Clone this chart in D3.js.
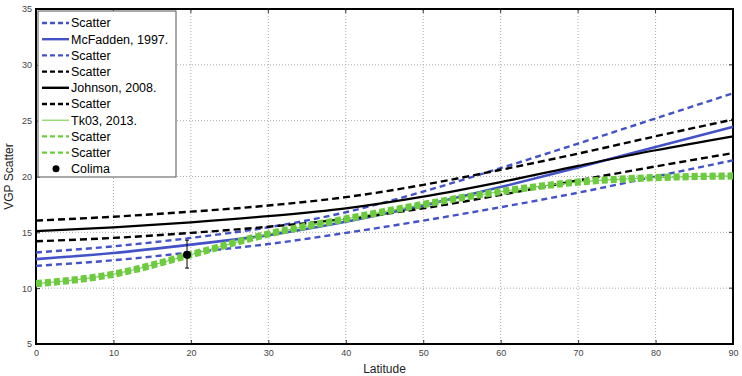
<!DOCTYPE html>
<html>
<head>
<meta charset="utf-8">
<script src="https://cdn.jsdelivr.net/npm/d3@7"></script>
<style>
  body { margin: 0; background: #fff; }
  svg { display: block; font-family: "Liberation Sans", Arial, sans-serif; }
</style>
</head>
<body>
<div id="chart"></div>
<script>
const latitudes = [0, 10, 20, 30, 40, 50, 60, 70, 80, 90];

// McFadden 1997 (blue) and its scatter bounds
const mcfUpper = [13.2, 13.75, 14.5, 15.45, 16.8, 18.65, 20.75, 22.95, 25.2, 27.45];
const mcfadden = [12.6, 13.15, 13.9, 14.75, 15.95, 17.4, 19.05, 20.8, 22.65, 24.45];
const mcfLower = [12.0, 12.5, 13.2, 13.95, 14.95, 16.05, 17.25, 18.55, 20.0, 21.45];

// Johnson 2008 (black) and its scatter bounds
const johUpper = [16.05, 16.4, 16.85, 17.4, 18.15, 19.25, 20.6, 22.05, 23.6, 25.1];
const johnson = [15.1, 15.45, 15.9, 16.45, 17.15, 18.2, 19.5, 20.95, 22.35, 23.6];
const johLower = [14.2, 14.5, 14.95, 15.5, 16.2, 17.15, 18.35, 19.65, 20.9, 22.1];

// Tk03 2013 (green) and its scatter bounds
const tk03 = [10.4, 11.25, 13.0, 14.85, 16.2, 17.5, 18.65, 19.5, 19.9, 20.05];
const tkUpper = [10.5, 11.35, 13.1, 14.95, 16.3, 17.6, 18.75, 19.6, 20.0, 20.15];
const tkLower = [10.3, 11.15, 12.9, 14.75, 16.1, 17.4, 18.55, 19.4, 19.8, 19.95];

// Colima site
const colima = { lat: 19.5, value: 13.0, low: 11.8, high: 14.3 };

const xTicks = [0, 10, 20, 30, 40, 50, 60, 70, 80, 90];
const yTicks = [5, 10, 15, 20, 25, 30, 35];

const width = 742, height = 376;
const margin = { top: 9, right: 9, bottom: 32, left: 36 };

const svg = d3.select("#chart").append("svg")
  .attr("width", width)
  .attr("height", height);

const x = d3.scaleLinear().domain([0, 90]).range([margin.left, width - margin.right]);
const y = d3.scaleLinear().domain([5, 35]).range([height - margin.bottom, margin.top]);

// grid
svg.append("g").selectAll("line")
  .data(xTicks.slice(1, -1))
  .join("line")
  .attr("x1", d => x(d)).attr("x2", d => x(d))
  .attr("y1", y(5)).attr("y2", y(35))
  .attr("stroke", "#aaa").attr("stroke-dasharray", "1,2");
svg.append("g").selectAll("line")
  .data(yTicks.slice(1, -1))
  .join("line")
  .attr("x1", x(0)).attr("x2", x(90))
  .attr("y1", d => y(d)).attr("y2", d => y(d))
  .attr("stroke", "#aaa").attr("stroke-dasharray", "1,2");

// axes
const xAxis = svg.append("g")
  .attr("transform", `translate(0,${y(5)})`)
  .call(d3.axisBottom(x).tickValues(xTicks).tickSize(-4).tickPadding(6));
const yAxis = svg.append("g")
  .attr("transform", `translate(${x(0)},0)`)
  .call(d3.axisLeft(y).tickValues(yTicks).tickSize(-4).tickPadding(4));
[xAxis, yAxis].forEach(g => {
  g.select(".domain").remove();
  g.selectAll(".tick line").attr("stroke", "#333");
  g.selectAll(".tick text").attr("fill", "#444").attr("font-size", 9);
});
// ticks on top and right
svg.append("g").selectAll("line")
  .data(xTicks)
  .join("line")
  .attr("x1", d => x(d)).attr("x2", d => x(d))
  .attr("y1", y(35)).attr("y2", y(35) + 4)
  .attr("stroke", "#333");
svg.append("g").selectAll("line")
  .data(yTicks)
  .join("line")
  .attr("x1", x(90) - 4).attr("x2", x(90))
  .attr("y1", d => y(d)).attr("y2", d => y(d))
  .attr("stroke", "#333");

// frame
svg.append("rect")
  .attr("x", x(0)).attr("y", y(35))
  .attr("width", x(90) - x(0)).attr("height", y(5) - y(35))
  .attr("fill", "none").attr("stroke", "#000").attr("stroke-width", 2);

const blue = "#4452c8", green = "#6ccb3e";

const series = [
  { values: mcfUpper, color: blue, width: 2.4, dash: "6,4" },
  { values: mcfLower, color: blue, width: 2.4, dash: "6,4" },
  { values: mcfadden, color: blue, width: 2.6, dash: null },
  { values: johUpper, color: "#000", width: 2.4, dash: "7,4" },
  { values: johLower, color: "#000", width: 2.4, dash: "7,4" },
  { values: johnson, color: "#000", width: 2.2, dash: null },
  { values: tk03, color: green, width: 1, dash: null },
  { values: tkUpper, color: green, width: 5, dash: "6,3" },
  { values: tkLower, color: green, width: 5, dash: "6,3" }
];

const line = d3.line()
  .x((d, i) => x(latitudes[i]))
  .y(d => y(d))
  .curve(d3.curveMonotoneX);

svg.append("g").selectAll("path")
  .data(series)
  .join("path")
  .attr("d", d => line(d.values))
  .attr("fill", "none")
  .attr("stroke", d => d.color)
  .attr("stroke-width", d => d.width)
  .attr("stroke-dasharray", d => d.dash);

// Colima with error bar
const cx = x(colima.lat);
svg.append("line")
  .attr("x1", cx).attr("x2", cx)
  .attr("y1", y(colima.low)).attr("y2", y(colima.high))
  .attr("stroke", "#000");
[colima.low, colima.high].forEach(v => {
  svg.append("line")
    .attr("x1", cx - 2).attr("x2", cx + 2)
    .attr("y1", y(v)).attr("y2", y(v))
    .attr("stroke", "#000");
});
svg.append("circle")
  .attr("cx", cx).attr("cy", y(colima.value))
  .attr("r", 4).attr("fill", "#000");

// axis labels
svg.append("text")
  .attr("x", (x(0) + x(90)) / 2).attr("y", 373)
  .attr("text-anchor", "middle").attr("font-size", 12).attr("fill", "#222")
  .text("Latitude");
svg.append("text")
  .attr("transform", `translate(13,${(y(5) + y(35)) / 2}) rotate(-90)`)
  .attr("text-anchor", "middle").attr("font-size", 12).attr("fill", "#222")
  .text("VGP Scatter");

// legend
const legendItems = [
  { label: "Scatter", color: blue, width: 2.4, dash: "5,3" },
  { label: "McFadden, 1997.", color: blue, width: 2.4, dash: null },
  { label: "Scatter", color: blue, width: 2.4, dash: "5,3" },
  { label: "Scatter", color: "#000", width: 2.4, dash: "5,3" },
  { label: "Johnson, 2008.", color: "#000", width: 2.4, dash: null },
  { label: "Scatter", color: "#000", width: 2.4, dash: "5,3" },
  { label: "Tk03, 2013.", color: green, width: 1, dash: null },
  { label: "Scatter", color: green, width: 2.4, dash: "5,3" },
  { label: "Scatter", color: green, width: 2.4, dash: "5,3" },
  { label: "Colima", marker: true }
];

const legend = svg.append("g");
legend.append("rect")
  .attr("x", 38).attr("y", 11)
  .attr("width", 138).attr("height", 166)
  .attr("fill", "#fff").attr("stroke", "#555");

const rows = legend.selectAll("g")
  .data(legendItems)
  .join("g")
  .attr("transform", (d, i) => `translate(0,${23 + i * 16.2})`);
rows.filter(d => !d.marker).append("line")
  .attr("x1", 42).attr("x2", 69)
  .attr("stroke", d => d.color)
  .attr("stroke-width", d => d.width)
  .attr("stroke-dasharray", d => d.dash);
rows.filter(d => d.marker).append("circle")
  .attr("cx", 56).attr("r", 3.5).attr("fill", "#000");
rows.append("text")
  .attr("x", 71).attr("dy", "0.35em")
  .attr("font-size", 12.5).attr("fill", "#000")
  .text(d => d.label);
</script>
</body>
</html>
